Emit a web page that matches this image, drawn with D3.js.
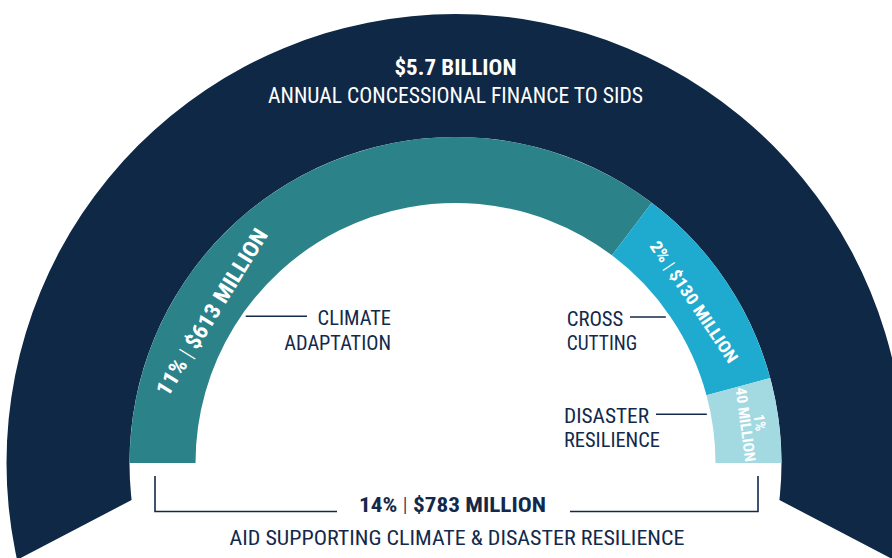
<!DOCTYPE html>
<html>
<head>
<meta charset="utf-8">
<script src="https://cdn.jsdelivr.net/npm/d3@7"></script>
<style>
  html, body { margin: 0; padding: 0; background: #ffffff; }
  svg { display: block; }
  text { font-family: "Roboto Condensed", "Liberation Sans Narrow", "Roboto", sans-serif; }
</style>
</head>
<body>
<svg id="chart" width="892" height="558"></svg>
<script>
// ---- data -------------------------------------------------------------
const categories   = ["CLIMATE ADAPTATION", "CROSS CUTTING", "DISASTER RESILIENCE"];
const categoryLines = [["CLIMATE", "ADAPTATION"], ["CROSS", "CUTTING"], ["DISASTER", "RESILIENCE"]];
const sharePct     = [11, 2, 1];          // % of concessional finance
const amountMln    = [613, 130, 40];      // USD millions
const totalPct     = 14;
const totalMln     = 783;
const financeBln   = 5.7;                 // USD billions, all concessional finance to SIDS

// ---- layout / style ---------------------------------------------------
const W = 892, H = 558;
const cx = 455.5, cy = 463;
const rIn = 260, rOut = 326, rOuter = 449;
const navy = "#0f2846";
const textNavy = "#13294b";
const segColors = ["#2b8289", "#1fabd0", "#a3d9e1"];

const svg = d3.select("#chart");
const g = svg.append("g").attr("transform", `translate(${cx},${cy})`);

// ---- outer band: all concessional finance -----------------------------
// the band runs a little below the baseline and is cut by two slanted edges
const tailDrop = 37;                          // px below baseline where the cut starts
const cutAngle = 27.6 * Math.PI / 180;        // slant of the cut
const px = Math.sqrt(rOut * rOut - tailDrop * tailDrop);
const far = 1500;
const clipPts = [
  [-3000, -3000], [3000, -3000],
  [px + far * Math.cos(cutAngle), tailDrop + far * Math.sin(cutAngle)],
  [px, tailDrop], [-px, tailDrop],
  [-px - far * Math.cos(cutAngle), tailDrop + far * Math.sin(cutAngle)]
];
svg.append("defs").append("clipPath").attr("id", "bandClip")
  .append("polygon").attr("points", clipPts.map(p => p.join(",")).join(" "));

g.append("path")
  .attr("clip-path", "url(#bandClip)")
  .attr("fill", navy)
  .attr("d", d3.arc()({ innerRadius: rOut, outerRadius: rOuter, startAngle: 0, endAngle: 2 * Math.PI }));

// ---- inner half ring: climate & disaster resilience aid ---------------
const rows = categories.map((c, i) => ({ name: c, lines: categoryLines[i], pct: sharePct[i], mln: amountMln[i], color: segColors[i] }));

// sweep per segment from a power scale of the amount
const sweep = d3.scalePow().exponent(0.78).domain([0, d3.max(amountMln)]).range([0, 1]);
const pie = d3.pie().sort(null).startAngle(-Math.PI / 2).endAngle(Math.PI / 2).value(d => sweep(d.mln));
const arcs = pie(rows);
const arc = d3.arc().innerRadius(rIn).outerRadius(rOut);

g.selectAll("path.seg").data(arcs).join("path")
  .attr("class", "seg")
  .attr("fill", d => d.data.color)
  .attr("d", arc);

// ---- labels along the ring --------------------------------------------
const ringLabel = [
  { frac: 0.25, r: 287, size: 22, len: 192 },
  { frac: 0.5,  r: 288, size: 17, len: 143 },
  { frac: 0.5,  r: 300, size: 15, len: 75 }
];
const deg = a => a * 180 / Math.PI;

arcs.forEach((a, i) => {
  const L = ringLabel[i];
  const ang = a.startAngle + (a.endAngle - a.startAngle) * L.frac;
  const x = L.r * Math.sin(ang), y = -L.r * Math.cos(ang);
  const t = g.append("g").attr("transform", `translate(${x},${y}) rotate(${deg(ang)})`);
  if (i < 2) {
    const tx = t.append("text")
      .attr("text-anchor", "middle").attr("dy", "0.36em")
      .attr("fill", "#ffffff").attr("font-size", L.size).attr("font-weight", 700)
      .attr("textLength", L.len).attr("lengthAdjust", "spacingAndGlyphs");
    tx.append("tspan").text(`${a.data.pct}%`);
    tx.append("tspan").attr("font-weight", 300).text(" | ");
    tx.append("tspan").text(`$${a.data.mln} MILLION`);
  } else {
    const lines = [`${a.data.pct}%`, `${a.data.mln} MILLION`];
    const lens = [17, L.len];
    lines.forEach((s, k) => {
      t.append("text")
        .attr("text-anchor", "middle")
        .attr("y", (k - 0.5) * 14.5).attr("dy", "0.36em")
        .attr("fill", "#ffffff").attr("font-size", L.size).attr("font-weight", 700)
        .attr("textLength", lens[k]).attr("lengthAdjust", "spacingAndGlyphs")
        .text(s);
    });
  }
});

// ---- category call-outs inside the ring -------------------------------
const callout = [
  { side: -1, x: 391,   base: [325.3, 350],   lens: [73.4, 106.7], lineOuter: 307 },
  { side:  1, x: 566.7, base: [326, 350],     lens: [56.6, 70.6],  lineOuter: 630 },
  { side:  1, x: 564,   base: [423.3, 446.7], lens: [85, 96],      lineOuter: 656 }
];
rows.forEach((d, i) => {
  const c = callout[i];
  d.lines.forEach((s, k) => {
    svg.append("text")
      .attr("x", c.x).attr("y", c.base[k])
      .attr("text-anchor", c.side < 0 ? "end" : "start")
      .attr("fill", textNavy).attr("font-size", 21)
      .attr("textLength", c.lens[k]).attr("lengthAdjust", "spacingAndGlyphs")
      .text(s);
  });
  // leader towards the ring, stopping just short of its inner edge
  const ly = c.base[0] - 9;
  const dy = cy - ly;
  const reach = Math.sqrt((rIn - 4) * (rIn - 4) - dy * dy);
  const innerX = c.side < 0 ? cx - reach : cx + reach;
  svg.append("line")
    .attr("x1", c.lineOuter).attr("x2", innerX)
    .attr("y1", ly).attr("y2", ly)
    .attr("stroke", textNavy).attr("stroke-width", 1.6);
});

// ---- headline in the outer band ---------------------------------------
svg.append("text")
  .attr("x", cx).attr("y", 74.5).attr("text-anchor", "middle")
  .attr("fill", "#ffffff").attr("font-size", 22.5).attr("font-weight", 700)
  .attr("textLength", 122).attr("lengthAdjust", "spacingAndGlyphs")
  .text(`$${financeBln} BILLION`);
svg.append("text")
  .attr("x", cx).attr("y", 102.7).attr("text-anchor", "middle")
  .attr("fill", "#ffffff").attr("font-size", 22.5)
  .attr("textLength", 375).attr("lengthAdjust", "spacingAndGlyphs")
  .text("ANNUAL CONCESSIONAL FINANCE TO SIDS");

// ---- total bracket under the ring -------------------------------------
const bx0 = 155, bx1 = 758, bTop = 476, bBot = 511.5;
const gap0 = 337, gap1 = 570;
const bracket = d3.path();
bracket.moveTo(bx0, bTop); bracket.lineTo(bx0, bBot); bracket.lineTo(gap0, bBot);
bracket.moveTo(gap1, bBot); bracket.lineTo(bx1, bBot); bracket.lineTo(bx1, bTop);
svg.append("path").attr("d", bracket.toString())
  .attr("fill", "none").attr("stroke", textNavy).attr("stroke-width", 1.6);

const tot = svg.append("text")
  .attr("x", 452.5).attr("y", 512).attr("text-anchor", "middle")
  .attr("fill", textNavy).attr("font-size", 21).attr("font-weight", 700)
  .attr("textLength", 187).attr("lengthAdjust", "spacingAndGlyphs");
tot.append("tspan").text(`${totalPct}%`);
tot.append("tspan").attr("font-weight", 300).text(" | ");
tot.append("tspan").text(`$${totalMln} MILLION`);

svg.append("text")
  .attr("x", 457).attr("y", 545).attr("text-anchor", "middle")
  .attr("fill", textNavy).attr("font-size", 21)
  .attr("textLength", 455).attr("lengthAdjust", "spacingAndGlyphs")
  .text("AID SUPPORTING CLIMATE & DISASTER RESILIENCE");
</script>
</body>
</html>
